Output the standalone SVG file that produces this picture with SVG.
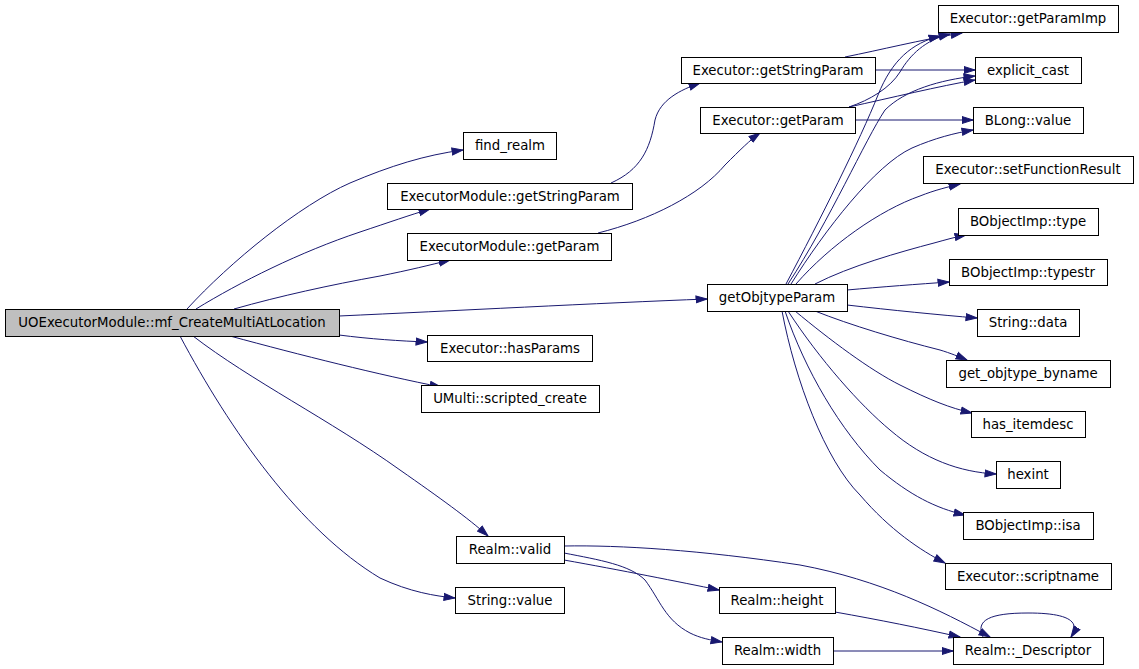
<svg xmlns="http://www.w3.org/2000/svg" width="1139" height="669" viewBox="0 0 1139 669">
<defs>
<style>
.n rect{fill:#ffffff;stroke:#000000;stroke-width:1}
.n.root rect{fill:#bfbfbf}
.n text{font-family:"DejaVu Sans","Liberation Sans",sans-serif;font-size:13.3px;fill:#000000;text-anchor:middle}
.e path{fill:none;stroke:#191970;stroke-width:1}
</style>
<marker id="ah" markerUnits="userSpaceOnUse" markerWidth="12" markerHeight="9" viewBox="0 0 12 9" refX="11.5" refY="4.5" orient="auto">
<path d="M0.5,1 L11.5,4.5 L0.5,8 z" fill="#191970" stroke="#191970" stroke-width="1"/>
</marker>
</defs>
<rect width="1139" height="669" fill="#ffffff"/>
<g id="edges" class="e">
<path marker-end="url(#ah)" d="M187,309 C230,262 300,205 350,183 C390,166 425,155 463,150"/>
<path marker-end="url(#ah)" d="M196,309 C240,282 300,252 360,232 C390,222 410,215 430,209"/>
<path marker-end="url(#ah)" d="M234,309 C280,296 330,285 380,276 C410,270 430,265 450,260"/>
<path marker-end="url(#ah)" d="M339,316 C450,311 600,303 707,299"/>
<path marker-end="url(#ah)" d="M339,335 C370,339 400,341 427,342"/>
<path marker-end="url(#ah)" d="M230,336 C300,355 380,375 441,387"/>
<path marker-end="url(#ah)" d="M193,336 C250,380 330,420 400,470 C440,498 468,518 488,536"/>
<path marker-end="url(#ah)" d="M180,336 C230,430 300,530 380,578 C410,592 435,596 455,598"/>
<path marker-end="url(#ah)" d="M611,183 C640,170 650,150 655,120 C660,100 680,90 700,83"/>
<path marker-end="url(#ah)" d="M598,233 C650,220 700,195 725,165 C740,150 750,140 760,133"/>
<path marker-end="url(#ah)" d="M845,57 C880,50 920,40 962,33"/>
<path marker-end="url(#ah)" d="M875,70 L975,70"/>
<path marker-end="url(#ah)" d="M849,107 C870,100 890,88 900,72 C910,55 925,40 950,34"/>
<path marker-end="url(#ah)" d="M849,107 C890,98 940,86 975,80"/>
<path marker-end="url(#ah)" d="M855,120 L973,120"/>
<path marker-end="url(#ah)" d="M786,284 C820,220 860,140 878,95 C892,60 912,43 940,36"/>
<path marker-end="url(#ah)" d="M788,284 C830,220 865,140 885,110 C905,90 940,80 975,76"/>
<path marker-end="url(#ah)" d="M791,284 C825,230 875,165 912,148 C935,138 955,133 973,130"/>
<path marker-end="url(#ah)" d="M796,284 C830,245 880,210 920,196 C935,190 948,187 960,184"/>
<path marker-end="url(#ah)" d="M815,284 C850,266 900,252 934,243 C945,240 955,237 966,235"/>
<path marker-end="url(#ah)" d="M847,290 C880,287 920,284 949,282"/>
<path marker-end="url(#ah)" d="M847,305 C890,310 940,315 977,318"/>
<path marker-end="url(#ah)" d="M815,311 C850,325 900,340 940,350 C950,353 960,357 967,360"/>
<path marker-end="url(#ah)" d="M795,311 C830,340 870,370 900,385 C930,400 950,408 972,413"/>
<path marker-end="url(#ah)" d="M788,311 C820,360 860,405 890,430 C925,460 960,472 996,474"/>
<path marker-end="url(#ah)" d="M785,311 C805,370 840,430 880,470 C910,495 935,508 965,515"/>
<path marker-end="url(#ah)" d="M782,311 C795,380 825,460 860,495 C890,530 920,550 945,563"/>
<path marker-end="url(#ah)" d="M564,546 C620,545 700,550 800,565 C880,580 940,610 990,637"/>
<path marker-end="url(#ah)" d="M564,560 C620,570 680,582 719,590"/>
<path marker-end="url(#ah)" d="M564,553 C600,560 630,565 645,580 C660,600 665,620 690,633 C700,638 710,640 722,642"/>
<path marker-end="url(#ah)" d="M835,612 C880,620 920,628 960,637"/>
<path marker-end="url(#ah)" d="M833,651 L953,651"/>
<path marker-end="url(#ah)" d="M983,637 C975,620 990,613 1028,613 C1065,613 1082,620 1071,637"/>
</g>
<g id="n_main" class="n root"><rect x="5.5" y="309.5" width="334" height="27"/><text x="172" y="327.3">UOExecutorModule::mf_CreateMultiAtLocation</text></g>
<g id="n_find_realm" class="n"><rect x="463.5" y="132.5" width="93" height="27"/><text x="510" y="150.3">find_realm</text></g>
<g id="n_em_getStringParam" class="n"><rect x="387.5" y="183.5" width="245" height="26"/><text x="510" y="200.8">ExecutorModule::getStringParam</text></g>
<g id="n_em_getParam" class="n"><rect x="407.5" y="233.5" width="204" height="27"/><text x="509.5" y="251.3">ExecutorModule::getParam</text></g>
<g id="n_e_getStringParam" class="n"><rect x="681.5" y="57.5" width="194" height="26"/><text x="778" y="74.8">Executor::getStringParam</text></g>
<g id="n_e_getParam" class="n"><rect x="700.5" y="107.5" width="155" height="26"/><text x="778" y="124.8">Executor::getParam</text></g>
<g id="n_getParamImp" class="n"><rect x="938.5" y="5.5" width="180" height="27"/><text x="1028" y="23.3">Executor::getParamImp</text></g>
<g id="n_explicit_cast" class="n"><rect x="975.5" y="57.5" width="106" height="26"/><text x="1028" y="74.8">explicit_cast</text></g>
<g id="n_blong_value" class="n"><rect x="973.5" y="107.5" width="110" height="26"/><text x="1028" y="124.8">BLong::value</text></g>
<g id="n_setFunctionResult" class="n"><rect x="923.5" y="156.5" width="210" height="27"/><text x="1028" y="174.3">Executor::setFunctionResult</text></g>
<g id="n_bobj_type" class="n"><rect x="958.5" y="208.5" width="140" height="27"/><text x="1028" y="226.3">BObjectImp::type</text></g>
<g id="n_bobj_typestr" class="n"><rect x="949.5" y="259.5" width="158" height="26"/><text x="1028" y="276.8">BObjectImp::typestr</text></g>
<g id="n_string_data" class="n"><rect x="977.5" y="309.5" width="102" height="27"/><text x="1028" y="327.3">String::data</text></g>
<g id="n_get_objtype_byname" class="n"><rect x="946.5" y="360.5" width="164" height="27"/><text x="1028" y="378.3">get_objtype_byname</text></g>
<g id="n_has_itemdesc" class="n"><rect x="971.5" y="411.5" width="114" height="26"/><text x="1028" y="428.8">has_itemdesc</text></g>
<g id="n_hexint" class="n"><rect x="996.5" y="461.5" width="64" height="27"/><text x="1028" y="479.3">hexint</text></g>
<g id="n_bobj_isa" class="n"><rect x="963.5" y="512.5" width="130" height="27"/><text x="1028" y="530.3">BObjectImp::isa</text></g>
<g id="n_scriptname" class="n"><rect x="945.5" y="563.5" width="166" height="26"/><text x="1028" y="580.8">Executor::scriptname</text></g>
<g id="n_descriptor" class="n"><rect x="953.5" y="637.5" width="150" height="27"/><text x="1028" y="655.3">Realm::_Descriptor</text></g>
<g id="n_realm_valid" class="n"><rect x="456.5" y="536.5" width="108" height="27"/><text x="510" y="554.3">Realm::valid</text></g>
<g id="n_string_value" class="n"><rect x="455.5" y="587.5" width="109" height="26"/><text x="510" y="604.8">String::value</text></g>
<g id="n_realm_height" class="n"><rect x="719.5" y="587.5" width="116" height="26"/><text x="777" y="604.8">Realm::height</text></g>
<g id="n_realm_width" class="n"><rect x="722.5" y="637.5" width="111" height="27"/><text x="777.5" y="655.3">Realm::width</text></g>
<g id="n_getObjtypeParam" class="n"><rect x="707.5" y="284.5" width="140" height="27"/><text x="777" y="302.3">getObjtypeParam</text></g>
<g id="n_hasParams" class="n"><rect x="427.5" y="335.5" width="165" height="26"/><text x="510" y="352.8">Executor::hasParams</text></g>
<g id="n_scripted_create" class="n"><rect x="421.5" y="385.5" width="178" height="27"/><text x="510" y="403.3">UMulti::scripted_create</text></g>
</svg>
